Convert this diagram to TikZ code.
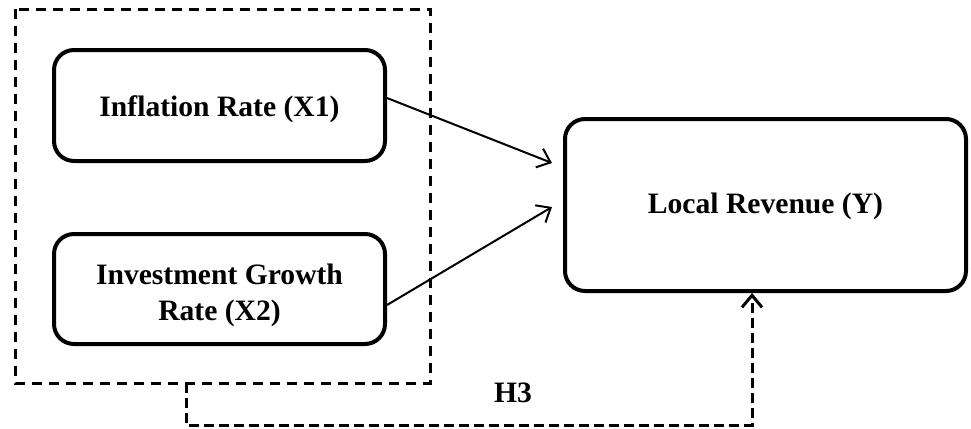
\documentclass[tikz,border=0pt]{standalone}
\usepackage{fontspec}
\setmainfont{Liberation Serif}
\usetikzlibrary{arrows.meta,calc}
\begin{document}
\begin{tikzpicture}[x=0.5pt,y=-0.5pt,
  varbox/.style={draw,line width=2pt,rounded corners=10pt,inner sep=0pt},
  txt/.style={align=center,font=\fontsize{14.8}{18}\selectfont\bfseries,inner sep=0pt},
  grpbox/.style={draw,line width=1.5pt,dash pattern=on 5pt off 3.5pt},
  arr/.style={line width=1pt,-{Straight Barb[length=6pt,width=10pt,line width=1pt]}},
  darr/.style={line width=1.5pt,dash pattern=on 5pt off 2.5pt,
    -{Straight Barb[length=6pt,width=10pt,line width=1.5pt]}}]
\useasboundingbox (0,0) rectangle (971,429);
% group box
\draw[grpbox] (15,9) rectangle (430,383);
% variable boxes
\node[varbox,minimum width=165.5pt,minimum height=55.5pt,
  label={[txt,yshift=-2pt]center:Inflation Rate (X1)}] (inf) at (219.5,105.5) {};
\node[varbox,minimum width=165.5pt,minimum height=55pt,
  label={[txt,yshift=-3pt]center:Investment Growth\\Rate (X2)}] (inv) at (219.5,289) {};
\node[varbox,minimum width=200.5pt,minimum height=86pt,
  label={[txt,yshift=-0.5pt]center:Local Revenue (Y)}] (y) at (765.5,205) {};
% arrows
\coordinate (t1) at (552,163);
\coordinate (t2) at (552,207);
\draw[arr] (inf.east |- 0,98) -- (t1);
\draw[arr] (inv.east |- 0,305) -- (t2);
% H3 connector
\coordinate (hs) at (186,383);
\coordinate (hb) at (186,425);
\coordinate (yin) at (y.south -| 752,0);
\draw[darr] (hs) -- (hb) -| (yin);
\node[txt] (h3) at (513,393) {H3};
\end{tikzpicture}
\end{document}
